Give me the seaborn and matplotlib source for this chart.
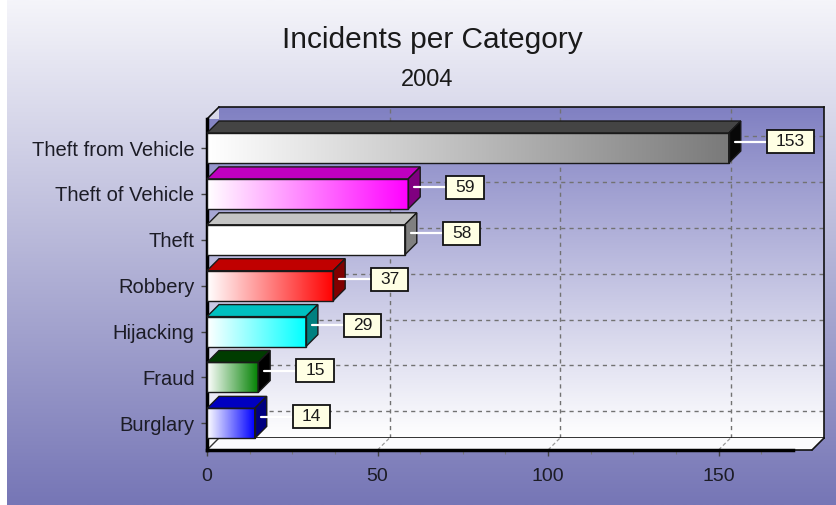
import numpy as np
import pandas as pd
import matplotlib
matplotlib.use("Agg")
import matplotlib.pyplot as plt
import matplotlib.colors as mcolors
from matplotlib.patches import Polygon, Rectangle
from matplotlib.lines import Line2D
from matplotlib.transforms import IdentityTransform
import seaborn as sns

# ---- data -------------------------------------------------------------
categories = ["Theft from Vehicle", "Theft of Vehicle", "Theft", "Robbery",
              "Hijacking", "Fraud", "Burglary"]
incidents = [153, 59, 58, 37, 29, 15, 14]
face_colors = ["#7a7a7a", "#ff00ff", "#ffffff", "#ff0000", "#00ffff", "#008000", "#0000ff"]
top_colors = ["#444444", "#c000c0", "#c4c4c4", "#c00000", "#00c0c0", "#003c00", "#0000c0"]
side_colors = ["#080808", "#800080", "#808080", "#800000", "#008080", "#000000", "#000080"]
x_ticks = [0, 50, 100, 150]
title = "Incidents per Category"
subtitle = "2004"

# ---- layout -----------------------------------------------------------
W, H, DPI = 836, 505, 100
DEPTH = 12                      # 3D depth in pixels
FRONT = (207, 119, 812, 450)    # left, top, right, bottom (px)
XMAX = 177.4
Y_TOP, Y_BOT = -0.632, 6.58
BAR_W = 0.654
TEXT = "#1c1c26"

sns.set_theme(style="white")
plt.rcParams["font.family"] = ["Liberation Sans", "DejaVu Sans"]

fig = plt.figure(figsize=(W / DPI, H / DPI), dpi=DPI, facecolor="white")


def frac(left, top, right, bottom):
    return [left / W, 1 - bottom / H, (right - left) / W, (bottom - top) / H]


def vgrad(c_top, c_bot, n=256):
    t = np.linspace(0, 1, n)[:, None, None]
    a, b = np.array(mcolors.to_rgb(c_top)), np.array(mcolors.to_rgb(c_bot))
    return a + (b - a) * t


def hgrad(c_left, c_right, n=256):
    t = np.linspace(0, 1, n)[None, :, None]
    a, b = np.array(mcolors.to_rgb(c_left)), np.array(mcolors.to_rgb(c_right))
    return a + (b - a) * t


# page background
bg = fig.add_axes(frac(7, 0, W, H), zorder=-10)
bg.imshow(vgrad("#f5f5fa", "#7676b6"), aspect="auto", interpolation="bilinear")
bg.axis("off")

# back wall with the dashed grid
l, t, r, b = FRONT
ax_back = fig.add_axes(frac(l + DEPTH, t - DEPTH, r + DEPTH, b - DEPTH), zorder=-5)
ax_back.imshow(vgrad("#8080c2", "#ffffff"), aspect="auto", interpolation="bilinear",
               extent=[0, XMAX, Y_BOT, Y_TOP], zorder=-1)
ax_back.set_xlim(0, XMAX)
ax_back.set_ylim(Y_BOT, Y_TOP)
ax_back.set_xticks(x_ticks[1:])
ax_back.set_yticks(range(len(categories)))
ax_back.grid(True, ls=(0, (3, 3)), color="#727272", lw=1)
ax_back.tick_params(length=0, labelbottom=False, labelleft=False)
for side, sp in ax_back.spines.items():
    sp.set_visible(side != "left")
    sp.set_color("#111111")
    sp.set_linewidth(1.2)

# front plane: the bars
ax = fig.add_axes(frac(*FRONT), zorder=1)
ax.patch.set_alpha(0)
df = pd.DataFrame({"category": categories, "incidents": incidents})
sns.barplot(data=df, x="incidents", y="category", orient="h", width=BAR_W,
            color="white", ax=ax)

dx = DEPTH * XMAX / (r - l)
dy = DEPTH * (Y_BOT - Y_TOP) / (b - t)

# left wall and floor
wall = Polygon([(0, Y_BOT), (0, Y_TOP), (dx, Y_TOP - dy), (dx, Y_BOT - dy)],
               closed=True, facecolor="none", edgecolor="none", clip_on=False)
ax.add_patch(wall)
wim = ax.imshow(vgrad("#8080c2", "#ffffff"), aspect="auto", interpolation="bilinear",
                extent=[0, dx, Y_BOT, Y_TOP - dy], zorder=0)
wim.set_clip_path(wall)
ax.add_patch(Polygon([(0, Y_BOT), (XMAX, Y_BOT), (XMAX + dx, Y_BOT - dy), (dx, Y_BOT - dy)],
                     closed=True, facecolor="#fbfbfd", edgecolor="none", zorder=0.5,
                     clip_on=False))
ax.add_line(Line2D([0, dx], [Y_TOP, Y_TOP - dy], color="#111111", lw=1.2, clip_on=False))
ax.add_line(Line2D([0, dx], [Y_BOT, Y_BOT - dy], color="#333333", lw=1, clip_on=False, zorder=0.6))
for xv in x_ticks[1:]:
    ax.add_line(Line2D([xv, xv + dx], [Y_BOT, Y_BOT - dy], color="#9a9a9a", lw=0.9,
                       ls=(0, (3, 2)), clip_on=False, zorder=0.6))
ax.add_line(Line2D([XMAX, XMAX + dx], [Y_BOT, Y_BOT - dy], color="#111111", lw=1.2, clip_on=False))
ax.add_line(Line2D([171.8, XMAX], [Y_BOT, Y_BOT], color="#111111", lw=1.2, clip_on=False))

# 3D bars with gradient fronts
for i, p in enumerate(ax.patches[:len(categories)]):
    x0, y0, w, h = p.get_x(), p.get_y(), p.get_width(), p.get_height()
    p.set_facecolor("none")
    p.set_edgecolor("#1a1a1a")
    p.set_linewidth(1)
    p.set_zorder(4)
    im = ax.imshow(hgrad("#ffffff", face_colors[i]), aspect="auto", interpolation="bilinear",
                   extent=[x0, x0 + w, y0 + h, y0], zorder=3)
    im.set_clip_path(p)
    top = Polygon([(x0, y0), (x0 + w, y0), (x0 + w + dx, y0 - dy), (x0 + dx, y0 - dy)],
                  closed=True, facecolor=top_colors[i], edgecolor="#1a1a1a", lw=1,
                  zorder=3.5, clip_on=False)
    side = Polygon([(x0 + w, y0), (x0 + w, y0 + h), (x0 + w + dx, y0 + h - dy), (x0 + w + dx, y0 - dy)],
                   closed=True, facecolor=side_colors[i], edgecolor="#1a1a1a", lw=1,
                   zorder=3.5, clip_on=False)
    ax.add_patch(top)
    ax.add_patch(side)

ax.set_xlim(0, XMAX)
ax.set_ylim(Y_BOT, Y_TOP)
ax.set_xlabel("")
ax.set_ylabel("")
ax.set_xticks(x_ticks)
ax.set_xticks([v for v in np.arange(12.5, 175, 12.5) if v not in x_ticks], minor=True)
ax.tick_params(axis="x", which="major", bottom=True, direction="out", length=4, width=1,
               color="#444444", pad=9, labelsize=14, labelcolor=TEXT)
ax.tick_params(axis="x", which="minor", bottom=True, direction="out", length=3, width=0.8,
               color="#777777")
ax.tick_params(axis="y", left=True, direction="out", length=4, width=1, color="#444444",
               pad=5, labelsize=14.5, labelcolor=TEXT)
for side_name, sp in ax.spines.items():
    sp.set_visible(side_name in ("left", "bottom"))
    sp.set_color("#000000")
    sp.set_linewidth(2.5)
ax.spines["bottom"].set_bounds(0, 171.8)

# value labels
labels = []
for i, v in enumerate(incidents):
    txt = ax.annotate(f"{v}", xy=(v, i), xytext=(47 * 0.72, 6.5 * 0.72),
                      textcoords="offset points", ha="left", va="center",
                      fontsize=12.5, color="#1a1a1a", zorder=6, annotation_clip=False)
    labels.append(txt)

fig.text(432.5 / W, 1 - 40 / H, title, ha="center", va="center", fontsize=21.5, color="#1a1a1a")
fig.text(427.5 / W, 1 - 80 / H, subtitle, ha="center", va="center", fontsize=17, color="#1a1a1a")

fig.canvas.draw()
renderer = fig.canvas.get_renderer()
PADX, BOXH = 9, 23
for i, (v, txt) in enumerate(zip(incidents, labels)):
    bb = txt.get_window_extent(renderer)
    cy = (bb.y0 + bb.y1) / 2
    box_left = bb.x0 - PADX
    ax.add_patch(Rectangle((box_left, cy - BOXH / 2), bb.width + 2 * PADX, BOXH,
                           transform=IdentityTransform(), facecolor="#ffffe4",
                           edgecolor="#111111", lw=1.3, zorder=5, clip_on=False))
    sx, sy = ax.transData.transform((v, i))
    ax.add_line(Line2D([sx + DEPTH / 2, box_left], [cy, cy], transform=IdentityTransform(),
                       color="white", lw=1.6, zorder=4.8, clip_on=False))

fig.savefig("out.png", dpi=DPI, facecolor=fig.get_facecolor())
